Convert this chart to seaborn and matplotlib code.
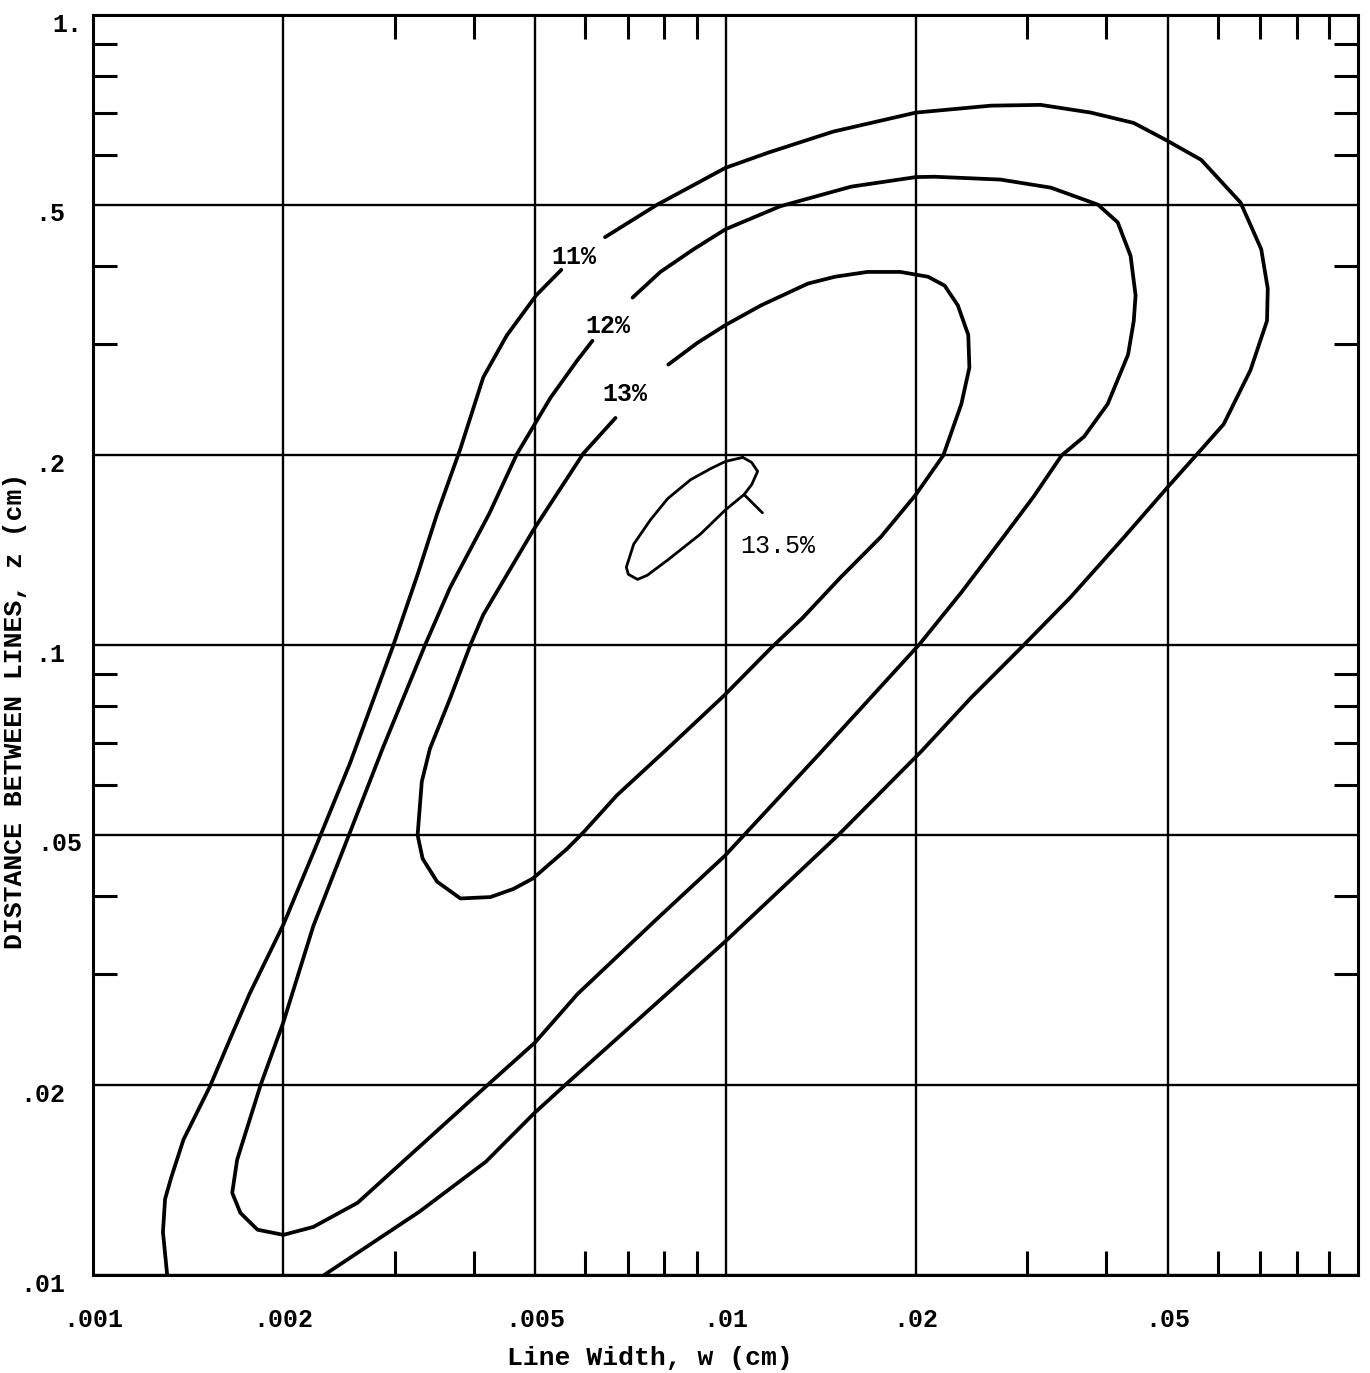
import numpy as np
import pandas as pd
import matplotlib
matplotlib.use("Agg")
import matplotlib.pyplot as plt
import matplotlib.transforms as mtransforms
from matplotlib.ticker import NullFormatter
import seaborn as sns

# ---------------- data ----------------
# 11% contour, left arm (bottom edge up to the label)
W11_LOW = [0.00131, 0.00129, 0.00130, 0.00133, 0.00139, 0.00153, 0.00165, 0.00177, 0.00200,
           0.00224, 0.00255, 0.00298, 0.00326, 0.00350, 0.00381, 0.00414, 0.00451, 0.00502, 0.00550]
Z11_LOW = [0.0100, 0.0117, 0.0132, 0.0143, 0.0164, 0.0199, 0.0238, 0.0280, 0.0360,
           0.0473, 0.0650, 0.0995, 0.1294, 0.1615, 0.205, 0.266, 0.310, 0.359, 0.394]
# 11% contour, from the label round the top and down to the bottom edge
W11_UP = [0.00645, 0.0078, 0.0100, 0.0117, 0.0148, 0.0200, 0.0263, 0.0315, 0.0378, 0.0442,
          0.0496, 0.0565, 0.0652, 0.0703, 0.0720, 0.0718, 0.0676, 0.0613, 0.0557, 0.0500,
          0.0426, 0.0351, 0.0293, 0.0244, 0.0204, 0.0151, 0.00998, 0.00557, 0.00498, 0.00418,
          0.00328, 0.00232]
Z11_UP = [0.444, 0.500, 0.572, 0.605, 0.653, 0.700, 0.718, 0.720, 0.700, 0.674,
          0.634, 0.589, 0.504, 0.425, 0.368, 0.327, 0.273, 0.224, 0.201, 0.178,
          0.148, 0.119, 0.0989, 0.0823, 0.0678, 0.0500, 0.0338, 0.0200, 0.01805, 0.01513,
          0.0126, 0.0100]
# 12% contour (open at its label)
W12 = [0.00616, 0.00583, 0.00529, 0.00468, 0.00423, 0.00367, 0.00335, 0.00287, 0.00255, 0.00223,
       0.00200, 0.00184, 0.00169, 0.00166, 0.00171, 0.00182, 0.00200, 0.00223, 0.00262, 0.00309,
       0.00420, 0.00500, 0.00583, 0.00778, 0.00998, 0.0141, 0.0203, 0.0236, 0.0275, 0.0307,
       0.0340, 0.0369, 0.0402, 0.0433, 0.0442, 0.0445, 0.0437, 0.0417, 0.0388, 0.0327,
       0.0272, 0.0214, 0.0200, 0.0158, 0.0122, 0.0100, 0.00891, 0.00789, 0.00713]
Z12 = [0.304, 0.283, 0.247, 0.201, 0.1615, 0.1234, 0.100, 0.0685, 0.0505, 0.0358,
       0.0252, 0.0200, 0.01524, 0.0135, 0.01255, 0.0118, 0.01158, 0.01192, 0.01302, 0.01513,
       0.0200, 0.0234, 0.0279, 0.0367, 0.0463, 0.0673, 0.1005, 0.1212, 0.1484, 0.172,
       0.200, 0.2142, 0.2413, 0.289, 0.3266, 0.3588, 0.4145, 0.4686, 0.500, 0.532,
       0.548, 0.5537, 0.553, 0.534, 0.497, 0.457, 0.425, 0.391, 0.356]
# 13% contour (open at its label)
W13 = [0.00670, 0.00596, 0.00497, 0.00414, 0.00395, 0.00367, 0.00341, 0.00331, 0.00326, 0.00332,
       0.00350, 0.00381, 0.00425, 0.00462, 0.00496, 0.00562, 0.00597, 0.00673, 0.00810, 0.00997,
       0.0118, 0.01325, 0.0152, 0.0176, 0.0200, 0.0221, 0.0236, 0.0243, 0.0242, 0.0233,
       0.0222, 0.0209, 0.0189, 0.01676, 0.0149, 0.0135, 0.01138, 0.0100, 0.00903, 0.00812]
Z13 = [0.2293, 0.2014, 0.1523, 0.1117, 0.100, 0.0823, 0.0685, 0.0607, 0.0499, 0.0458,
       0.0421, 0.0396, 0.0398, 0.0410, 0.0426, 0.0475, 0.0505, 0.0577, 0.0685, 0.0833,
       0.0989, 0.1105, 0.128, 0.1484, 0.1733, 0.200, 0.2413, 0.2757, 0.3106, 0.346,
       0.372, 0.3842, 0.391, 0.391, 0.3842, 0.3747, 0.346, 0.322, 0.3018, 0.2787]
# 13.5% closed loop + leader to its label
W135 = [0.01065, 0.0110, 0.01124, 0.0110, 0.0107, 0.0100, 0.00913, 0.0081, 0.00752, 0.00726,
        0.00702, 0.00697, 0.00716, 0.00761, 0.0081, 0.00881, 0.00948, 0.0100, 0.01065]
Z135 = [0.1985, 0.1949, 0.1886, 0.1797, 0.1733, 0.1639, 0.150, 0.1364, 0.129, 0.1271,
        0.1295, 0.1329, 0.1446, 0.158, 0.1707, 0.183, 0.1906, 0.1956, 0.1985]
W_LEADER = [0.0107, 0.01144]
Z_LEADER = [0.1733, 0.1621]

LABELS   = ["11%", "12%", "13%", "13.5%"]
LABEL_W  = [0.00575, 0.00652, 0.00694, 0.0121]
LABEL_Z  = [0.413, 0.321, 0.250, 0.1435]
LABEL_WT = ["bold", "bold", "bold", "normal"]

XTICKS = [0.001, 0.002, 0.005, 0.01, 0.02, 0.05]
XTICKLABELS = [".001", ".002", ".005", ".01", ".02", ".05"]
YTICKS = [0.01, 0.02, 0.05, 0.1, 0.2, 0.5, 1.0]
YTICKLABELS = [".01", ".02", ".05", ".1", ".2", ".5", "1."]
XMINOR = [0.003, 0.004, 0.006, 0.007, 0.008, 0.009, 0.03, 0.04, 0.06, 0.07, 0.08, 0.09]
YMINOR = [0.03, 0.04, 0.06, 0.07, 0.08, 0.09, 0.3, 0.4, 0.6, 0.7, 0.8, 0.9]
# -------------------------------------------------------------------

sns.set_theme(style="white")
plt.rcParams["font.family"] = ["Liberation Mono", "DejaVu Sans Mono"]

fig = plt.figure(figsize=(13.7, 13.73), dpi=100)
ax = fig.add_axes([93 / 1370, 98 / 1373, 1265 / 1370, 1260 / 1373])
ax.set_xscale("log")
ax.set_yscale("log")

main = pd.concat([
    pd.DataFrame({"w": W11_LOW, "z": Z11_LOW, "seg": "11a"}),
    pd.DataFrame({"w": W11_UP, "z": Z11_UP, "seg": "11b"}),
    pd.DataFrame({"w": W12, "z": Z12, "seg": "12"}),
    pd.DataFrame({"w": W13, "z": Z13, "seg": "13"}),
])
inner = pd.concat([
    pd.DataFrame({"w": W135, "z": Z135, "seg": "135"}),
    pd.DataFrame({"w": W_LEADER, "z": Z_LEADER, "seg": "leader"}),
])

sns.lineplot(data=main, x="w", y="z", units="seg", estimator=None, sort=False,
             color="black", lw=2.7, ax=ax, legend=False)
sns.lineplot(data=inner, x="w", y="z", units="seg", estimator=None, sort=False,
             color="black", lw=2.0, ax=ax, legend=False)

for txt, w, z, wt in zip(LABELS, LABEL_W, LABEL_Z, LABEL_WT):
    ax.text(w, z, txt, fontsize=18, ha="center", va="center", color="black", fontweight=wt)

ax.set_xlim(0.001, 0.1)
ax.set_ylim(0.01, 1.0)
ax.set_xticks(XTICKS, XTICKLABELS, fontweight="bold")
ax.set_yticks(YTICKS, YTICKLABELS, fontweight="bold")
ax.set_xticks(XMINOR, minor=True)
ax.set_yticks(YMINOR, minor=True)
ax.xaxis.set_minor_formatter(NullFormatter())
ax.yaxis.set_minor_formatter(NullFormatter())

ax.grid(which="major", color="black", lw=1.7)
ax.tick_params(which="major", length=0, labelsize=18, colors="black")
ax.tick_params(axis="x", which="major", pad=24)
ax.tick_params(axis="y", which="major", pad=20)
ax.tick_params(which="minor", direction="in", length=17, width=2.2, color="black",
               top=True, right=True, bottom=True, left=True)
for s in ax.spines.values():
    s.set_color("black")
    s.set_linewidth(2.2)

# y labels sit a little below their grid lines in the original; ".05" and "1." sit further right
for lbl in ax.get_yticklabels():
    dx = 0.17 if lbl.get_text() in (".05", "1.") else 0.0
    lbl.set_transform(lbl.get_transform() +
                      mtransforms.ScaledTranslation(dx, -0.07, fig.dpi_scale_trans))

ax.set_xlabel("Line Width, w (cm)", fontsize=19, color="black", fontweight="bold")
ax.xaxis.set_label_coords(0.44, -0.056)
ax.set_ylabel("DISTANCE BETWEEN LINES, z (cm)", fontsize=19, color="black", fontweight="bold")
ax.yaxis.set_label_coords(-0.052, 0.448)

fig.savefig("out.png", dpi=100)
plt.close(fig)
